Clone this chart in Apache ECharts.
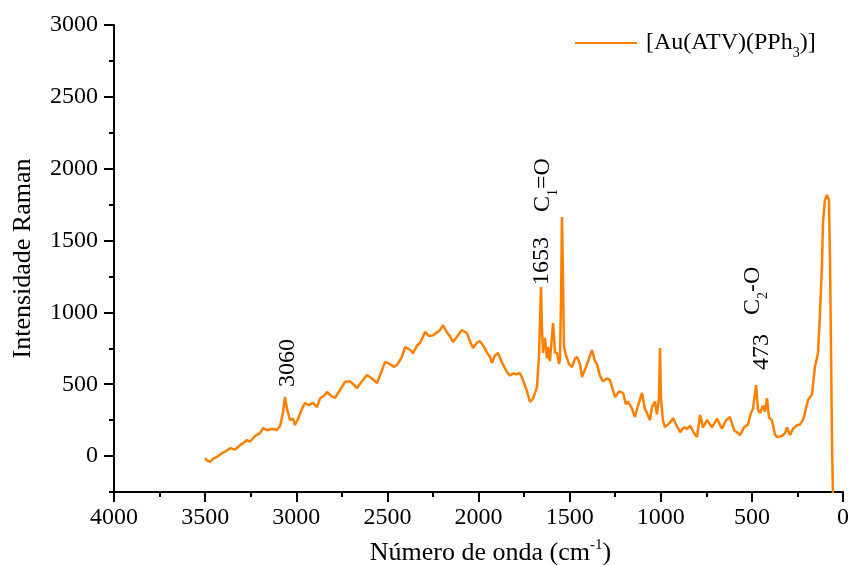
<!DOCTYPE html>
<html>
<head>
<meta charset="utf-8">
<script src="https://cdn.jsdelivr.net/npm/echarts@6/dist/echarts.min.js"></script>
<style>html,body{margin:0;padding:0;background:#fff}#c{width:848px;height:565px}</style>
</head>
<body>
<div id="c"></div>
<script>
// Wavenumber (cm-1) values
const wavenumbers = [3500,3490,3473,3457,3435,3407,3385,3363,3336,3309,3287,3270,3254,3226,3199,3182,3160,3133,3106,3089,3073,3062,3051,3034,3018,3007,2990,2968,2952,2930,2908,2886,2870,2848,2831,2809,2788,2760,2733,2705,2683,2667,2639,2612,2584,2557,2535,2513,2486,2464,2447,2420,2403,2376,2359,2337,2321,2293,2272,2250,2228,2211,2195,2173,2156,2140,2118,2091,2063,2047,2030,2008,1992,1970,1953,1937,1926,1910,1893,1871,1844,1827,1811,1789,1773,1756,1734,1717,1701,1679,1668,1657,1652,1646,1635,1624,1619,1608,1591,1580,1569,1558,1553,1547,1542,1536,1531,1520,1503,1487,1470,1459,1443,1432,1410,1388,1377,1361,1350,1334,1317,1295,1279,1251,1229,1207,1191,1180,1158,1142,1125,1103,1087,1076,1059,1048,1032,1021,1010,1004,999,988,977,960,938,933,916,894,872,856,839,817,801,784,768,746,719,691,664,642,620,598,576,565,543,521,505,494,477,466,455,439,428,417,406,390,373,362,335,318,307,291,274,252,236,220,209,192,170,154,137,126,115,110,99,88,77,71,66,60,55];
// Raman intensity values
const intensities = [-14,-30,-40,-20,-5,20,35,55,45,75,95,111,100,140,160,195,180,190,181,210,300,411,330,250,260,216,260,330,369,355,370,341,400,420,446,420,404,460,515,520,495,473,520,564,540,508,580,655,640,620,634,690,759,740,717,770,787,864,835,840,860,877,912,860,833,794,830,877,855,800,752,790,800,760,720,690,648,700,717,650,585,560,575,570,578,529,450,376,400,480,700,1177,900,717,822,680,760,660,926,720,717,640,680,1100,1664,1200,760,700,640,620,680,690,640,550,620,700,738,660,640,560,520,540,530,411,450,440,360,380,330,272,350,439,330,300,250,340,380,290,400,752,400,251,202,220,250,265,220,167,200,190,210,160,132,286,200,250,200,260,190,250,272,180,160,146,200,220,300,330,494,320,300,350,310,404,270,250,150,132,140,160,200,146,190,215,220,250,300,390,430,620,717,996,1344,1622,1783,1818,1783,1344,759,63,-258];
const xMajorTicks = [0,500,1000,1500,2000,2500,3000,3500,4000];
const yMajorTicks = [0,500,1000,1500,2000,2500,3000];
const seriesName = '[Au(ATV)(PPh3)]';

const FONT = '"Liberation Serif","Times New Roman",serif';
const ORANGE = '#ff8000';
const chart = echarts.init(document.getElementById('c'));
const data = wavenumbers.map((w, i) => [w, intensities[i]]);
const plain = v => String(v);

const subRich = {
  n: {fontFamily: FONT, fontSize: 24, color: '#000', lineHeight: 34},
  s: {fontFamily: FONT, fontSize: 14, color: '#000', lineHeight: 12, verticalAlign: 'bottom'}
};
const supRich = {
  n: {fontFamily: FONT, fontSize: 26, color: '#000', lineHeight: 30},
  sup: {fontFamily: FONT, fontSize: 15, color: '#000', lineHeight: 12, verticalAlign: 'top'}
};

const axisLine = {show: true, onZero: false, lineStyle: {color: '#000', width: 2}};
chart.setOption({
  animation: false,
  grid: {left: 114, right: 5, top: 25, bottom: 73, containLabel: false, outerBoundsMode: 'none'},
  legend: {
    left: 575, top: 31, padding: 0, itemWidth: 62, itemHeight: 14, itemGap: 0,
    data: [{name: seriesName, icon: 'path://M0,6 L62,6 L62,8 L0,8 Z'}],
    formatter: () => '{n|[Au(ATV)(PPh}{s|3}{n|)]}',
    textStyle: {fontFamily: FONT, fontSize: 24, color: '#000', rich: subRich, padding: [0, 0, 0, 4]}
  },
  xAxis: [
    {type: 'value', inverse: true, min: 0, max: 4000, interval: 250, position: 'bottom',
     axisLine: axisLine, axisTick: {show: true, length: 5, lineStyle: {color: '#000', width: 2}},
     axisLabel: {show: false}, splitLine: {show: false}},
    {type: 'value', inverse: true, min: 0, max: 4000, interval: 500, position: 'bottom', offset: 0,
     axisLine: {show: false, onZero: false},
     axisTick: {show: true, length: 10, customValues: xMajorTicks, lineStyle: {color: '#000', width: 2}},
     axisLabel: {show: true, customValues: xMajorTicks, formatter: plain, fontFamily: FONT, fontSize: 24, color: '#000', margin: 14},
     splitLine: {show: false},
     name: '{n|Número de onda (cm}{sup|-1}{n|)}', nameLocation: 'middle', nameGap: 46,
     nameTextStyle: {fontFamily: FONT, fontSize: 26, color: '#000', rich: supRich, padding: [0, 0, 0, 24]}}
  ],
  yAxis: [
    {type: 'value', min: -250, max: 3000, interval: 250, position: 'left',
     axisLine: axisLine, axisTick: {show: true, length: 5, lineStyle: {color: '#000', width: 2}},
     axisLabel: {show: false}, splitLine: {show: false}},
    {type: 'value', min: -250, max: 3000, position: 'left', offset: 0,
     axisLine: {show: false, onZero: false},
     axisTick: {show: true, length: 10, customValues: yMajorTicks, lineStyle: {color: '#000', width: 2}},
     axisLabel: {show: true, customValues: yMajorTicks, formatter: plain, fontFamily: FONT, fontSize: 24, color: '#000', margin: 16},
     splitLine: {show: false},
     name: 'Intensidade Raman', nameLocation: 'middle', nameGap: 78,
     nameTextStyle: {fontFamily: FONT, fontSize: 26, color: '#000'}}
  ],
  series: [{
    name: seriesName, type: 'line', data: data, xAxisIndex: 0, yAxisIndex: 0,
    showSymbol: false, symbol: 'none', color: ORANGE,
    lineStyle: {color: ORANGE, width: 2.5}, clip: false
  }]
});

// Rotated peak annotations, anchored at data coordinates
const annotations = [
  {at: [3045, 480], text: '{n|3060}'},
  {at: [1652, 1191], text: '{n|1653}'},
  {at: [1646, 1699], text: '{n|C}{s|1}{n|=O}'},
  {at: [444, 599], text: '{n|473}'},
  {at: [494, 982], text: '{n|C}{s|2}{n|-O}'}
];
chart.setOption({
  graphic: annotations.map(a => {
    const p = chart.convertToPixel({xAxisIndex: 0, yAxisIndex: 0}, a.at);
    return {type: 'text', x: p[0], y: p[1], rotation: Math.PI / 2, silent: true,
      style: {text: a.text, align: 'left', verticalAlign: 'middle', rich: subRich,
        fontFamily: FONT, fontSize: 24, fill: '#000'}};
  })
});
</script>
</body>
</html>
